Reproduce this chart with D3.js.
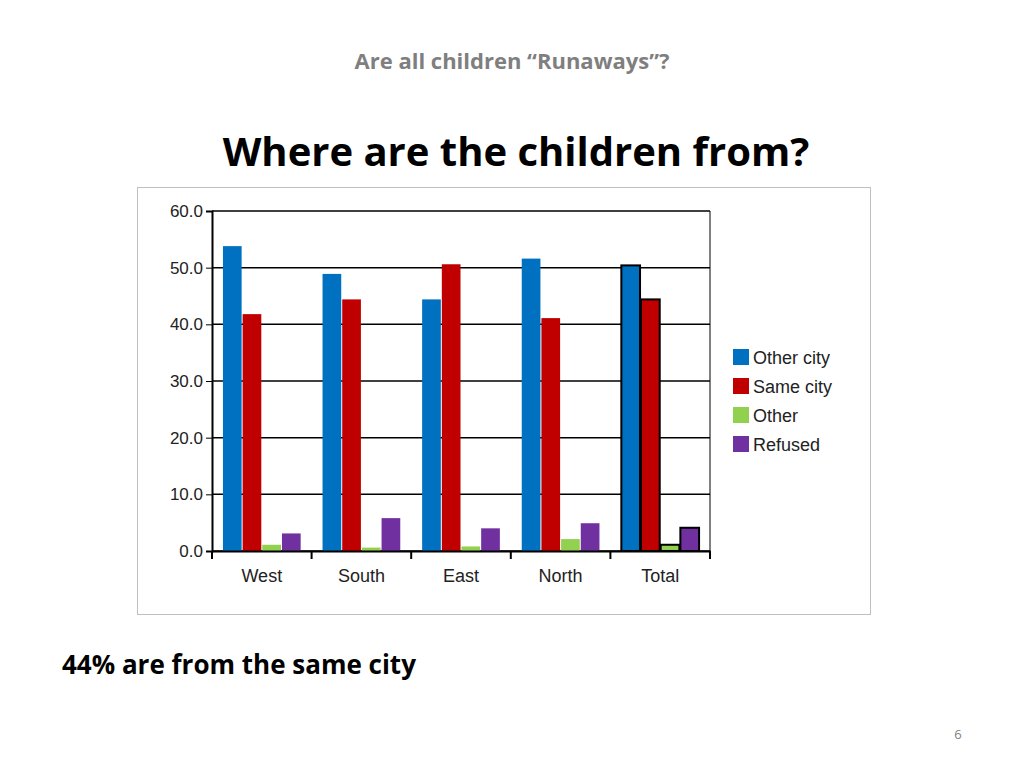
<!DOCTYPE html>
<html>
<head>
<meta charset="utf-8">
<script src="https://cdn.jsdelivr.net/npm/d3@7"></script>
<style>
  body { margin: 0; background: #fff; font-family: Carlito, Calibri, "Open Sans", sans-serif; }
</style>
</head>
<body>
<svg id="chart" width="1024" height="768"></svg>
<script>
// Chart data
const regions = ["West", "South", "East", "North", "Total"];
const seriesNames = ["Other city", "Same city", "Other", "Refused"];
const seriesColors = ["#0070c0", "#c00000", "#92d050", "#7030a0"];
const otherCity = [53.8, 48.9, 44.4, 51.6, 50.4];
const sameCity = [41.8, 44.4, 50.6, 41.1, 44.4];
const other = [1.1, 0.6, 0.8, 2.1, 1.1];
const refused = [3.1, 5.8, 4.0, 4.9, 4.1];
const yTicks = [0, 10, 20, 30, 40, 50, 60];

const svg = d3.select("#chart");
const font = "'Liberation Sans', Arial, sans-serif";

// Titles
svg.append("text").attr("x", 512).attr("y", 69).attr("text-anchor", "middle")
    .style("font-family", "'Open Sans', sans-serif").style("font-weight", "bold")
    .style("font-size", "22px").style("fill", "#7f7f7f")
    .text("Are all children \u201cRunaways\u201d?");
svg.append("text").attr("x", 516).attr("y", 166).attr("text-anchor", "middle")
    .style("font-family", "'Open Sans', sans-serif").style("font-weight", "bold")
    .style("font-size", "40px").style("fill", "#000")
    .text("Where are the children from?");
svg.append("text").attr("x", 62).attr("y", 674)
    .style("font-family", "'Open Sans', sans-serif").style("font-weight", "bold")
    .style("font-size", "26px").style("fill", "#000")
    .text("44% are from the same city");
svg.append("text").attr("x", 958).attr("y", 739).attr("text-anchor", "middle")
    .style("font-family", "'Open Sans', sans-serif").style("font-size", "13px").style("fill", "#7f7f7f")
    .text("6");

// Chart frame
svg.append("rect").attr("x", 137.5).attr("y", 187.5).attr("width", 733).attr("height", 427)
    .attr("fill", "#fff").attr("stroke", "#bfbfbf");

const margin = { left: 212, top: 211 };
const width = 498, height = 340;
const g = svg.append("g").attr("transform", "translate(" + margin.left + "," + margin.top + ")");

const x0 = d3.scaleBand().domain(regions).range([0, width]).paddingInner(0.2).paddingOuter(0.1);
const x1 = d3.scaleBand().domain(seriesNames).range([0, x0.bandwidth()]).padding(0.05);
const y = d3.scaleLinear().domain([0, 60]).range([height, 0]);

// Gridlines
g.selectAll(".grid").data(yTicks).join("line")
    .attr("x1", 0).attr("x2", width)
    .attr("y1", d => y(d)).attr("y2", d => y(d))
    .attr("stroke", "#000").attr("stroke-width", 1.5);
g.append("line").attr("x1", width).attr("x2", width).attr("y1", 0).attr("y2", height)
    .attr("stroke", "#000");

// Bars
const values = [otherCity, sameCity, other, refused];
const groups = g.selectAll(".region").data(regions).join("g")
    .attr("transform", d => "translate(" + x0(d) + ",0)");
groups.selectAll("rect").data((r, i) => seriesNames.map((s, k) => ({ s, k, v: values[k][i], total: r === "Total" })))
    .join("rect")
    .attr("x", d => x1(d.s)).attr("width", x1.bandwidth())
    .attr("y", d => y(d.v)).attr("height", d => y(0) - y(d.v))
    .attr("fill", d => seriesColors[d.k])
    .attr("stroke", d => d.total ? "#000" : "none").attr("stroke-width", 2);

// Axes
const yAxis = g.append("g").call(d3.axisLeft(y).tickValues(yTicks).tickFormat(d3.format(".1f")).tickSize(6));
yAxis.select(".domain").attr("stroke-width", 2);
yAxis.selectAll("text").style("font-family", font).style("font-size", "17px").style("fill", "#222");
const xAxis = g.append("g").attr("transform", "translate(0," + height + ")")
    .call(d3.axisBottom(x0).tickSize(0).tickPadding(18));
xAxis.select(".domain").attr("stroke-width", 2);
xAxis.selectAll("text").style("font-family", font).style("font-size", "18px").style("fill", "#222");
// Category separators
g.selectAll(".sep").data(d3.range(regions.length + 1)).join("line")
    .attr("x1", i => i * width / regions.length).attr("x2", i => i * width / regions.length)
    .attr("y1", height).attr("y2", height + 8).attr("stroke", "#000").attr("stroke-width", 2);

// Legend
const legend = svg.append("g").attr("transform", "translate(733,349)");
seriesNames.forEach((s, i) => {
    legend.append("rect").attr("x", 0).attr("y", i * 29).attr("width", 16).attr("height", 16)
        .attr("fill", seriesColors[i]);
    legend.append("text").attr("x", 20).attr("y", i * 29 + 15)
        .style("font-family", font).style("font-size", "18px").style("fill", "#222").text(s);
});
</script>
</body>
</html>
